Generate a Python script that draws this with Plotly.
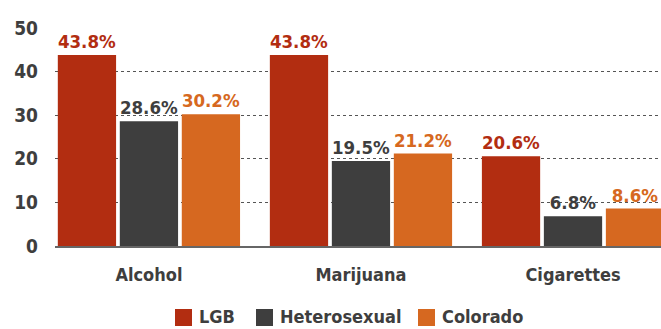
import plotly.graph_objects as go

categories = ["Alcohol", "Marijuana", "Cigarettes"]
lgb = [43.8, 43.8, 20.6]
heterosexual = [28.6, 19.5, 6.8]
colorado = [30.2, 21.2, 8.6]
y_ticks = [0, 10, 20, 30, 40, 50]

FONT = "DejaVu Sans Condensed, Roboto, sans-serif"
TXT = "#3E3E3E"
series = [
    ("LGB", lgb, "#B22D11"),
    ("Heterosexual", heterosexual, "#3E3E3E"),
    ("Colorado", colorado, "#D66820"),
]

W, H = 661, 329
M = dict(l=55, r=0, t=28, b=83)
PW, PH = W - M["l"] - M["r"], H - M["t"] - M["b"]


def f(size, color):
    return dict(family=FONT, size=size, color=color, weight="bold")


def px_x(x):
    return (x - M["l"]) / PW


def px_y(y):
    return (H - M["b"] - y) / PH


fig = go.Figure()
for name, vals, color in series:
    fig.add_trace(go.Bar(
        x=categories, y=vals, name=name,
        marker=dict(color=color, line=dict(width=0)),
        text=vals, texttemplate="%{y:.1f}%", textposition="outside", textangle=0,
        textfont=f(18.5, color),
        constraintext="none", cliponaxis=False, showlegend=False,
    ))

# legend row: swatch + label per series
legend_swatch_left = [175, 256, 418]
for (name, _, color), sx in zip(series, legend_swatch_left):
    fig.add_shape(type="rect", xref="paper", yref="paper",
                  x0=px_x(sx), x1=px_x(sx + 17), y0=px_y(309), y1=px_y(326),
                  fillcolor=color, line=dict(width=0))
    fig.add_annotation(xref="paper", yref="paper", x=px_x(sx + 23), y=px_y(316),
                       xanchor="left", yanchor="middle", showarrow=False,
                       borderpad=0, text=name, font=f(18, TXT))

fig.update_layout(
    width=W, height=H, margin=M,
    paper_bgcolor="white", plot_bgcolor="white",
    barmode="group", bargap=0.123, bargroupgap=0.06,
    showlegend=False,
    font=dict(family=FONT),
)
fig.update_xaxes(
    type="category", range=[-0.443, 2.415],
    showline=True, linecolor="#666666", linewidth=2,
    showgrid=False, ticks="",
    tickfont=f(18, TXT),
    ticklabelstandoff=11,
)
fig.update_yaxes(
    range=[0, 50], tickvals=y_ticks,
    showgrid=True, gridcolor="#555555", gridwidth=1, griddash="dot",
    zeroline=False, showline=False,
    tickfont=f(19, TXT),
    ticklabelstandoff=16,
)
fig.write_html("out.html")
